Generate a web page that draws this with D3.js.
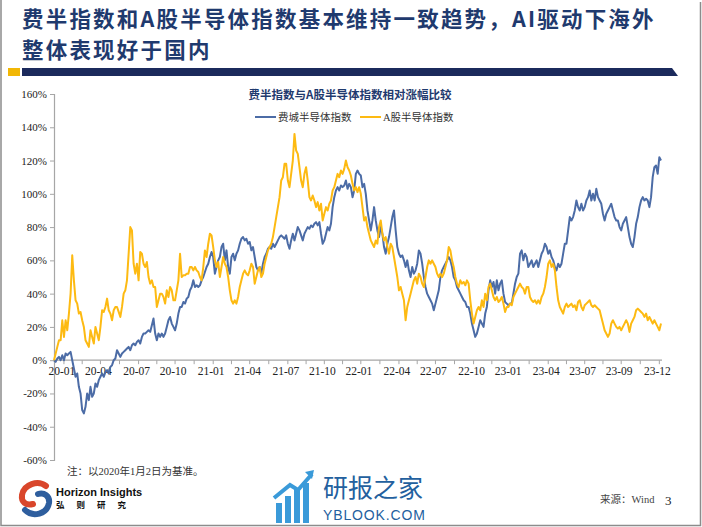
<!DOCTYPE html>
<html><head><meta charset="utf-8">
<script src="https://cdn.jsdelivr.net/npm/d3@7/dist/d3.min.js"></script>
<style>body{margin:0;background:#fff}svg{display:block}</style>
</head><body>
<svg id="c" width="702" height="527"></svg>
<script>
// ---- data (relative gain %, base 2020-01-02), equally spaced trading samples ----
const phlxSOX = [
0,-1,1,2,0,3,0,4,3,4, 5,0,-5,-10,-8,-16,-20,-30,-32,-28, -20,-24,-16,-22,-20,-14,-16,-12,-10,-8,
-10,-7,-6,-8,-4,-3,0,1,6,4, 2,4,5,6,7,8,6,9,10,9, 11,12,10,14,16,16,17,18,17,21,
25,16,12,16,14,16,14,16,20,24, 26,22,20,18,22,28,32,32,35,34, 37,38,42,44,48,44,45,44,45,48,
50,53,56,58,62,65,62,52,56,60, 62,68,70,60,66,56,52,62,64,60, 64,66,70,73,74,72,73,70,71,66,
68,62,56,54,
56,52,58,62,64,67,68,67,70,68, 70,72,74,75,74,73,75,70,67,72, 76,72,76,80,78,75,72,76,78,80,
79,81,80,82,83,81,83,76,70,72, 76,80,78,82,92,98,102,104,102,105, 104,105,108,103,106,104,98,102,112,114,
112,111,104,106,100,90,84,78,84,92, 84,78,74,80,76,68,64,70,74,80, 86,90,78,68,64,62,63,60,56,60,
54,50,56,52,54,58,66,64,58,50, 44,40,38,36,34,30,34,38,42,50, 54,56,58,60,62,60,56,50,48,44,
42,40,38,36,35,
32,32,28,22,18,14,16,20,24,22, 20,28,32,42,48,44,47,40,48,42, 46,48,40,35,34,33,34,34,40,46,
50,52,64,66,60,64,62,56,58,60, 56,58,60,56,60,64,66,70,68,64, 66,62,60,56,54,58,56,58,64,70,
70,78,86,84,86,90,96,92,90,94, 90,92,96,98,102,96,100,96,103,98, 96,94,88,84,88,90,92,94,90,86,
84,84,80,78,82,84,86,80,74,70, 68,74,82,86,92,96,98,96,97,96, 92,98,110,116,117,112,122,120
];
const aShareSemi = [
0,4,8,12,12,24,14,24,18,28, 40,63,48,36,34,28,29,24,20,12, 10,8,18,14,10,20,16,12,20,30,
29,32,37,30,28,24,30,32,32,29, 26,32,40,42,48,64,80,78,58,52, 58,48,65,64,58,56,59,50,46,48,
44,44,32,36,40,40,38,34,42,38, 44,42,36,36,42,48,64,50,51,51, 52,52,56,56,54,56,54,53,50,48,
56,66,62,70,76,75,68,60,56,59, 50,56,62,58,56,50,42,36,34,36, 34,38,44,48,52,54,52,51,54,58,
56,46,50,54,
56,50,52,58,62,66,68,70,74,80, 86,92,98,108,110,118,118,108,104,112, 120,136,126,124,116,108,104,112,116,108,
98,96,99,96,92,95,90,94,84,88, 92,90,94,96,102,104,108,112,110,114, 112,115,120,116,114,111,106,102,104,101,
104,100,92,84,86,80,76,72,70,68, 72,70,80,84,76,72,74,68,64,70, 68,62,56,50,42,44,40,36,24,32,
36,40,44,48,50,46,52,50,46,44, 50,56,60,58,60,58,56,52,50,52, 50,52,56,60,68,66,60,56,50,46,
44,48,46,47,45,
48,46,36,28,22,26,30,32,30,36, 32,40,36,44,46,42,38,36,38,35, 36,38,34,29,32,32,34,33,38,40,
42,44,46,44,43,40,44,44,38,36, 35,36,34,36,34,38,40,44,50,58, 60,56,58,54,44,36,32,30,28,32,
34,32,33,34,32,33,30,35,36,32, 30,33,34,35,36,33,32,33,32,31, 30,26,22,18,16,14,16,22,24,22,
20,19,20,18,20,22,24,22,17,22, 24,26,30,31,30,29,28,26,28,24, 26,24,22,24,22,20,18,22
];
const seriesNames = ["费城半导体指数", "A股半导体指数"];
const xTickLabels = ["20-01","20-04","20-07","20-10","21-01","21-04","21-07","21-10","22-01",
                     "22-04","22-07","22-10","23-01","23-04","23-07","23-09","23-12"];
const xTickIndex = [6,28,51,73,96,118,141,163,185,208,230,253,275,298,320,342,365];
const yTicks = [-60,-40,-20,0,20,40,60,80,100,120,140,160];

const svg = d3.select("#c");
const serif = "'Liberation Serif','Times New Roman','Noto Sans CJK SC',serif";
const cjk = "'Noto Sans CJK SC','Noto Sans CJK JP',sans-serif";
const navy = "#1F3A6E";

// frame
svg.append("path").attr("d","M1,0 V525.5 H700.5 V2").attr("fill","none").attr("stroke","#8c8c8c").attr("stroke-width",1.5);

// header (two lines)
svg.append("text").attr("x",22).attr("y",27).attr("font-family",cjk).attr("font-weight",700)
  .attr("font-size",21.5).attr("letter-spacing",2.2).attr("fill",navy).text("费半指数和A股半导体指数基本维持一致趋势，AI驱动下海外");
svg.append("text").attr("x",22).attr("y",58).attr("font-family",cjk).attr("font-weight",700)
  .attr("font-size",21.5).attr("letter-spacing",2.2).attr("fill",navy).text("整体表现好于国内");
svg.append("rect").attr("x",8).attr("y",68).attr("width",12).attr("height",8).attr("fill","#F2B705");
svg.append("path").attr("d","M22,68 H672 L678,76 H22 Z").attr("fill","#1B2A5C");

// scales
const n = phlxSOX.length;
const x = d3.scaleLinear().domain([0, n-1]).range([54, 661]);
const y = d3.scaleLinear().domain([-60,160]).range([460, 94]);

// chart title
svg.append("text").attr("x",350).attr("y",99).attr("text-anchor","middle").attr("font-family",cjk)
  .attr("font-weight",700).attr("font-size",11.5).attr("fill",navy).text("费半指数与A股半导体指数相对涨幅比较");

// y axis
const yAxis = d3.axisLeft(y).tickValues(yTicks).tickSize(4).tickFormat(d=>d+"%");
const ga = svg.append("g").attr("transform","translate(54,0)").call(yAxis);
ga.select(".domain").attr("stroke","#a6a6a6").attr("stroke-width",1.2);
ga.selectAll(".tick line").attr("stroke","#a6a6a6");
ga.selectAll(".tick text").attr("font-family",serif).attr("font-size",11).attr("fill","#222").attr("x",-7);

// x axis at 0%
const minor = [];
for (let i=0;i<xTickIndex.length;i++){ minor.push(xTickIndex[i]); if(i<xTickIndex.length-1) minor.push((xTickIndex[i]+xTickIndex[i+1])/2); }
const gx = svg.append("g").attr("transform",`translate(0,${y(0)})`);
gx.append("line").attr("x1",54).attr("x2",662).attr("stroke","#a6a6a6").attr("stroke-width",1.2);
gx.selectAll("line.t").data(minor).join("line").attr("class","t")
  .attr("x1",d=>x(d)).attr("x2",d=>x(d)).attr("y1",0).attr("y2",4).attr("stroke","#a6a6a6");

// series
const line = d3.line().x((d,i)=>x(i)).y(d=>y(d)).curve(d3.curveLinear);
svg.append("path").datum(phlxSOX).attr("d",line).attr("fill","none").attr("stroke","#4C6CA6").attr("stroke-width",2).attr("stroke-linejoin","round");
svg.append("path").datum(aShareSemi).attr("d",line).attr("fill","none").attr("stroke","#FDBA12").attr("stroke-width",2).attr("stroke-linejoin","round");

// x labels
gx.selectAll("text").data(xTickLabels).join("text")
  .attr("x",(d,i)=>x(xTickIndex[i])-2).attr("y",15).attr("text-anchor","middle")
  .attr("font-family",serif).attr("font-size",11.5).attr("fill","#222").text(d=>d);

// legend
const leg = [{c:"#4C6CA6",x0:255,t:seriesNames[0]},{c:"#FDBA12",x0:360,t:seriesNames[1]}];
leg.forEach(l=>{
  svg.append("line").attr("x1",l.x0).attr("x2",l.x0+21).attr("y1",117).attr("y2",117).attr("stroke",l.c).attr("stroke-width",2);
  svg.append("text").attr("x",l.x0+23).attr("y",121).attr("font-family",serif).attr("font-size",10.5).attr("fill","#333").text(l.t);
});

// footnote
svg.append("text").attr("x",67).attr("y",475).attr("font-family",serif).attr("font-size",10.5).attr("fill","#333").text("注：以2020年1月2日为基准。");

// logo
svg.append("path").attr("d","M46,486 C38,480 24,484 22,495 C21,502 26,506 33,504").attr("fill","none").attr("stroke","#D9462B").attr("stroke-width",6).attr("stroke-linecap","round");
svg.append("path").attr("d","M25,510 C33,518 47,514 49,503 C50,496 44,492 38,494").attr("fill","none").attr("stroke","#2E5E9E").attr("stroke-width",6).attr("stroke-linecap","round");
svg.append("text").attr("x",56).attr("y",496).attr("font-family","'Liberation Sans',Arial,sans-serif").attr("font-weight",700).attr("font-size",11).attr("fill","#111").text("Horizon Insights");
svg.append("text").attr("x",56).attr("y",508).attr("font-family",cjk).attr("font-weight",700).attr("font-size",8.5).attr("letter-spacing",12).attr("fill","#111").text("弘则研究");

// watermark
const wm = "#23609E";
[[276,503,6,20],[285,496,6,27],[294,489,6,34],[303,483,6,40]].forEach(b=>{
  svg.append("rect").attr("x",b[0]).attr("y",b[1]).attr("width",b[2]).attr("height",b[3]).attr("fill","#3A9AD9");
});
svg.append("path").attr("d","M274,498 L290,485 L298,490 L312,474").attr("fill","none").attr("stroke","#3A9AD9").attr("stroke-width",4);
svg.append("path").attr("d","M305,472 L314,470 L312,479 Z").attr("fill","#3A9AD9");
svg.append("text").attr("x",323).attr("y",497).attr("font-family",cjk).attr("font-size",25).attr("fill",wm).text("研报之家");
svg.append("text").attr("x",323).attr("y",520).attr("font-family","'Liberation Sans',Arial,sans-serif").attr("font-size",14).attr("fill",wm).attr("textLength",102).text("YBLOOK.COM");

// source + page
svg.append("text").attr("x",600).attr("y",503).attr("font-family",serif).attr("font-size",10.5).attr("fill","#444").text("来源：Wind");
svg.append("text").attr("x",665).attr("y",505).attr("font-family",serif).attr("font-size",13).attr("fill","#222").text("3");
</script>
</body></html>
